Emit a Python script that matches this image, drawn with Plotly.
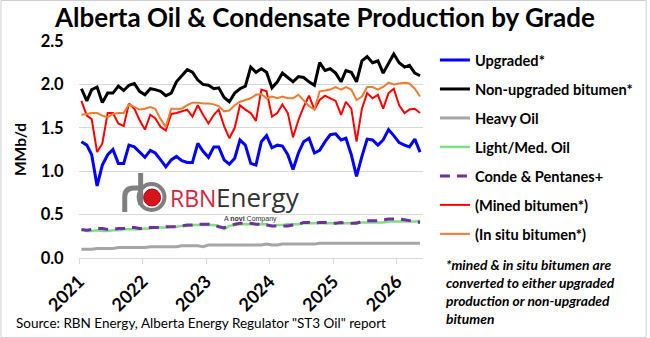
import plotly.graph_objects as go
import pandas as pd

# ---------------- data (MMb/d, monthly Jan-2021 .. May-2026) ----------------
month_start = "2021-01-01"
n_months = 65

upgraded = [1.34, 1.30, 1.19, 0.83, 1.07, 1.19, 1.25, 1.09, 1.09, 1.30,
            1.28, 1.22, 1.16, 1.24, 1.21, 1.13, 1.05, 1.13, 1.17, 1.12,
            1.10, 1.10, 1.32, 1.23, 1.16, 1.28, 1.28, 1.13, 1.08, 1.15,
            1.36, 1.30, 1.09, 1.07, 1.34, 1.41, 1.27, 1.30, 1.29, 1.19,
            1.02, 1.21, 1.34, 1.38, 1.21, 1.24, 1.34, 1.42, 1.43, 1.36,
            1.38, 1.19, 0.94, 1.17, 1.37, 1.36, 1.30, 1.36, 1.48, 1.41,
            1.33, 1.30, 1.28, 1.37, 1.22]

non_upgraded = [1.95, 1.81, 1.94, 1.97, 1.79, 1.90, 1.90, 1.98, 1.93, 1.99,
                2.01, 1.92, 1.88, 1.95, 1.94, 1.92, 1.87, 1.90, 2.03, 2.10,
                2.17, 2.14, 2.05, 2.00, 1.99, 1.95, 1.96, 1.85, 1.80, 1.90,
                1.95, 1.98, 2.20, 2.14, 2.18, 2.14, 1.96, 2.03, 2.13, 2.08,
                2.03, 2.09, 2.08, 2.03, 1.99, 2.25, 2.16, 2.18, 2.13, 2.03,
                2.16, 2.14, 2.03, 2.27, 2.32, 2.25, 2.27, 2.13, 2.25, 2.35,
                2.25, 2.20, 2.22, 2.13, 2.10]

heavy_oil = [0.10, 0.10, 0.10, 0.11, 0.11, 0.11, 0.11, 0.12, 0.12, 0.12,
             0.12, 0.12, 0.12, 0.13, 0.13, 0.13, 0.13, 0.13, 0.13, 0.14,
             0.14, 0.14, 0.14, 0.13, 0.15, 0.15, 0.15, 0.15, 0.15, 0.15,
             0.15, 0.15, 0.15, 0.15, 0.15, 0.16, 0.15, 0.15, 0.16, 0.16,
             0.16, 0.16, 0.16, 0.16, 0.16, 0.17, 0.17, 0.17, 0.17, 0.17,
             0.17, 0.17, 0.17, 0.17, 0.17, 0.17, 0.17, 0.17, 0.17, 0.17,
             0.17, 0.17, 0.17, 0.17, 0.17]

light_med = [0.32, 0.31, 0.31, 0.32, 0.31, 0.31, 0.32, 0.32, 0.33, 0.33,
             0.33, 0.33, 0.34, 0.34, 0.35, 0.35, 0.35, 0.36, 0.36, 0.37,
             0.37, 0.38, 0.38, 0.38, 0.38, 0.38, 0.37, 0.33, 0.37, 0.38,
             0.39, 0.39, 0.39, 0.39, 0.39, 0.39, 0.37, 0.38, 0.38, 0.39,
             0.39, 0.39, 0.40, 0.40, 0.40, 0.40, 0.40, 0.40, 0.40, 0.40,
             0.40, 0.40, 0.41, 0.41, 0.41, 0.41, 0.41, 0.41, 0.42, 0.42,
             0.42, 0.42, 0.42, 0.42, 0.43]

conde_pentanes = [0.33, 0.32, 0.33, 0.34, 0.34, 0.33, 0.33, 0.34, 0.34, 0.35,
                  0.35, 0.34, 0.34, 0.35, 0.35, 0.35, 0.36, 0.36, 0.36, 0.37,
                  0.38, 0.38, 0.39, 0.39, 0.39, 0.38, 0.36, 0.35, 0.37, 0.39,
                  0.40, 0.40, 0.40, 0.39, 0.39, 0.38, 0.37, 0.37, 0.37, 0.37,
                  0.38, 0.39, 0.41, 0.41, 0.40, 0.41, 0.41, 0.40, 0.40, 0.41,
                  0.40, 0.40, 0.40, 0.42, 0.43, 0.43, 0.43, 0.44, 0.45, 0.45,
                  0.45, 0.44, 0.43, 0.42, 0.41]

mined = [1.81, 1.64, 1.60, 1.22, 1.32, 1.67, 1.67, 1.55, 1.52, 1.78,
         1.72, 1.59, 1.48, 1.65, 1.61, 1.51, 1.47, 1.66, 1.67, 1.69,
         1.71, 1.63, 1.76, 1.65, 1.55, 1.65, 1.71, 1.52, 1.38, 1.50,
         1.76, 1.71, 1.67, 1.58, 1.94, 1.92, 1.63, 1.67, 1.77, 1.67,
         1.39, 1.59, 1.74, 1.87, 1.71, 1.82, 1.87, 1.84, 1.81, 1.65,
         1.80, 1.72, 1.34, 1.72, 1.90, 1.84, 1.88, 1.72, 1.90, 1.95,
         1.76, 1.67, 1.71, 1.72, 1.67]

in_situ = [1.65, 1.66, 1.67, 1.67, 1.64, 1.62, 1.66, 1.67, 1.67, 1.77,
           1.74, 1.71, 1.72, 1.74, 1.72, 1.60, 1.51, 1.72, 1.72, 1.72,
           1.76, 1.79, 1.79, 1.78, 1.78, 1.77, 1.75, 1.69, 1.70, 1.76,
           1.80, 1.82, 1.84, 1.88, 1.89, 1.84, 1.86, 1.84, 1.86, 1.84,
           1.84, 1.88, 1.82, 1.75, 1.71, 1.92, 1.93, 1.94, 1.97, 1.94,
           1.97, 1.94, 1.82, 1.86, 1.97, 1.97, 1.94, 1.97, 2.02, 2.00,
           2.01, 2.02, 2.01, 1.95, 1.86]

year_labels = ["2021", "2022", "2023", "2024", "2025", "2026"]
y_ticks = [0.0, 0.5, 1.0, 1.5, 2.0, 2.5]

# points sit mid-month (Excel "between tick marks" date axis)
dates = pd.date_range(month_start, periods=n_months, freq="MS") + pd.Timedelta(days=14)
year_tickvals = [f"{y}-01-01" for y in year_labels]

series = [
    ("Upgraded*", upgraded, dict(color="#0000FF", width=3)),
    ("Non-upgraded bitumen*", non_upgraded, dict(color="#000000", width=3)),
    ("Heavy Oil", heavy_oil, dict(color="#A6A6A6", width=3)),
    ("Light/Med. Oil", light_med, dict(color="#7FE07F", width=2.5)),
    ("Conde & Pentanes+", conde_pentanes, dict(color="#7030A0", width=3, dash="10px,7px")),
    ("(Mined bitumen*)", mined, dict(color="#FF0000", width=2)),
    ("(In situ bitumen*)", in_situ, dict(color="#ED7D31", width=2)),
]

FONT = "Lato"
fig = go.Figure()
for i, (name, vals, line) in enumerate(series):
    fig.add_trace(go.Scatter(x=dates, y=vals, mode="lines", name=name,
                             line=line, legendgroup=f"g{i}"))

# geometry helpers (pixel -> paper) for decorations only
L, R, T, B = 79, 425, 41, 258
W, H = 650, 338
def px(x):
    return (x - L) / (R - L)
def py(y):
    return (B - y) / (B - T)

shapes = [
    # outer image border
    dict(type="rect", xref="paper", yref="paper", x0=px(0.5), x1=px(649.5),
         y0=py(337.5), y1=py(0.5), line=dict(color="#D0D0D0", width=1),
         layer="below"),
    # logo: pipe "r" + "b" stem
    dict(type="path", xref="paper", yref="paper",
         path=f"M {px(125)},{py(212)} L {px(125)},{py(197)} Q {px(125)},{py(188)} {px(134)},{py(188)} L {px(141)},{py(188)}",
         line=dict(color="#7F7F7F", width=5)),
    dict(type="line", xref="paper", yref="paper", x0=px(141), x1=px(141),
         y0=py(173), y1=py(205), line=dict(color="#7F7F7F", width=5)),
    dict(type="circle", xref="paper", yref="paper", x0=px(139), x1=px(165),
         y0=py(210), y1=py(184), line=dict(color="#7F7F7F", width=4)),
    dict(type="circle", xref="paper", yref="paper", x0=px(144), x1=px(161),
         y0=py(206), y1=py(189), fillcolor="#D7141A", line=dict(color="#B00010", width=1)),
]

annotations = [
    dict(text="RBN", x=px(169), y=py(198), xref="paper", yref="paper",
         xanchor="left", yanchor="middle", showarrow=False,
         font=dict(family="Open Sans", size=23, color="#D7263D")),
    dict(text="Energy", x=px(215), y=py(197), xref="paper", yref="paper",
         xanchor="left", yanchor="middle", showarrow=False,
         font=dict(family="Open Sans", size=26, color="#333333")),
    dict(text="A <b>novi</b> Company", x=px(223), y=py(219), xref="paper", yref="paper",
         xanchor="left", yanchor="middle", showarrow=False,
         font=dict(family="Liberation Sans", size=7, color="#333333")),
    dict(text="<b><i>*mined & in situ bitumen are<br>converted to either upgraded<br>production or non-upgraded<br>bitumen</i></b>",
         x=px(446), y=py(254), xref="paper", yref="paper", xanchor="left", yanchor="top",
         align="left", showarrow=False,
         font=dict(family=FONT, size=13.8, color="#000000")),
    dict(text='Source: RBN Energy, Alberta Energy Regulator "ST3 Oil" report',
         x=px(14), y=py(323), xref="paper", yref="paper", xanchor="left", yanchor="middle",
         showarrow=False, font=dict(family=FONT, size=13.5, color="#000000")),
]

fig.update_layout(
    width=W, height=H,
    margin=dict(l=L, r=W - R, t=T, b=H - B),
    paper_bgcolor="white", plot_bgcolor="white",
    title=dict(text="<b>Alberta Oil & Condensate Production by Grade</b>",
               x=0.5, xanchor="center", y=1 - 18 / H, yanchor="middle",
               font=dict(family=FONT, size=26, color="#000000")),
    font=dict(family=FONT, color="#000000"),
    showlegend=True,
    legend=dict(x=px(437), xanchor="left", y=py(44), yanchor="top",
                font=dict(family=FONT, size=14.6, weight="bold", color="#000000"),
                tracegroupgap=7, traceorder="grouped", maxheight=330,
                bgcolor="rgba(0,0,0,0)", itemwidth=30),
    shapes=shapes,
    annotations=annotations,
)

fig.update_xaxes(
    type="date", range=["2021-01-01", "2026-06-01"],
    tickvals=year_tickvals, ticktext=year_labels, tickangle=-45,
    tickfont=dict(family=FONT, size=18, weight="bold", color="#000000"),
    showgrid=False, showline=True, linecolor="#D9D9D9", linewidth=1,
    ticks="outside", ticklen=5, tickcolor="#D9D9D9", zeroline=False,
)
fig.update_yaxes(
    range=[0, 2.5], tickvals=y_ticks, tickformat=".1f",
    tickfont=dict(family=FONT, size=16.5, weight="bold", color="#000000"),
    showgrid=True, gridcolor="#D9D9D9", gridwidth=1, zeroline=False,
    showline=False, ticks="outside", ticklen=11, tickcolor="rgba(0,0,0,0)",
    title=dict(text="MMb/d", standoff=10,
               font=dict(family=FONT, size=15.5, weight="bold", color="#000000")),
)

fig.write_html("out.html")
